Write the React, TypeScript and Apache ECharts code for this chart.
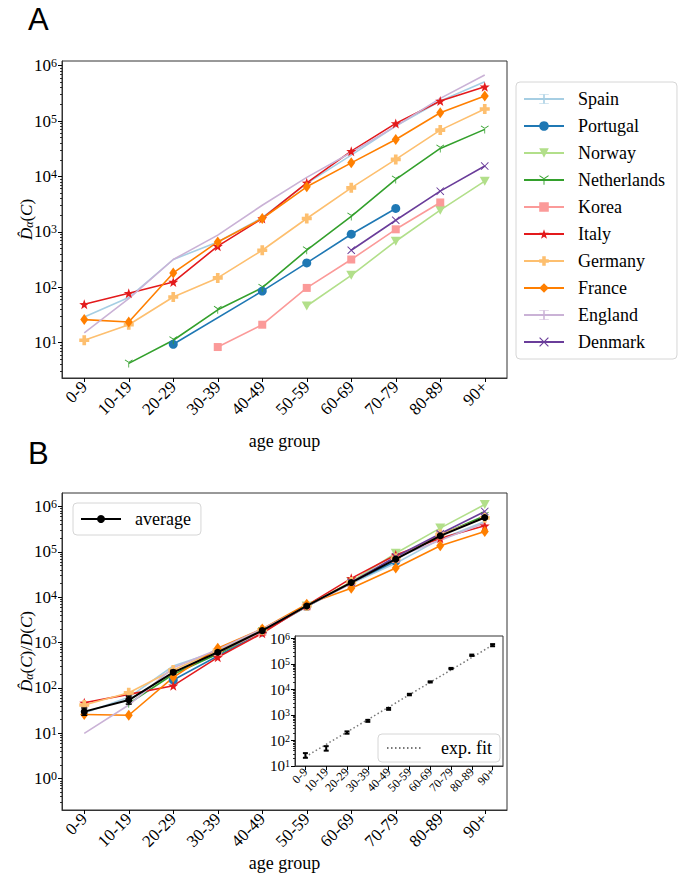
import React, { useEffect, useRef } from 'react';
import * as echarts from 'echarts';

const SERIF = '"Liberation Serif", "Times New Roman", serif';

const ageGroups = ['0-9', '10-19', '20-29', '30-39', '40-49', '50-59', '60-69', '70-79', '80-89', '90+'];
const countries = ['Spain', 'Portugal', 'Norway', 'Netherlands', 'Korea', 'Italy', 'Germany', 'France', 'England', 'Denmark'];
const colors = ['#a6cee3', '#1f78b4', '#b2df8a', '#33a02c', '#fb9a99', '#e31a1c', '#fdbf6f', '#ff7f00', '#cab2d6', '#6a3d9a'];

// Panel A: D_alpha(C)
const spainA = [29, 65, 316, 656, 1800, 7500, 24300, 81000, 230000, 515000];
const portugalA = [null, null, 9.3, null, 85, 274, 905, 2640, null, null];
const norwayA = [null, null, null, null, null, 45.7, 164, 676, 2460, 8220];
const netherlandsA = [null, 4.2, 11, 39, 98, 465, 1900, 8830, 32100, 70800];
const koreaA = [null, null, null, 8.3, 21, 97, 316, 1110, 3390, null];
const italyA = [49, 78, 124, 550, 1740, 7660, 28600, 90800, 230000, 417000];
const germanyA = [11, 21, 66.5, 147, 465, 1740, 6220, 20300, 68700, 165000];
const franceA = [26, 23.5, 181, 656, 1740, 6500, 17600, 46500, 141000, 283000];
const englandA = [15, 62, 316, 870, 3020, 9600, 27000, 81000, 257000, 680000];
const denmarkA = [null, null, null, null, null, null, 465, 1620, 5420, 15400];

// Panel B: D_alpha(C)/D(C)
const spainB = [28, 62, 304, 650, 1800, 6300, 20000, 56000, 190000, 467000];
const portugalB = [null, null, 150, null, 1700, 6200, 21000, 62000, null, null];
const norwayB = [null, null, null, null, null, 6400, 22000, 93000, 333000, 1100000];
const netherlandsB = [null, 45, 200, 560, 1800, 6300, 21000, 72000, 235000, 620000];
const koreaB = [null, null, null, 600, 1700, 6300, 21000, 70000, 230000, null];
const italyB = [47, 72, 112, 473, 1600, 6600, 26000, 85000, 200000, 375000];
const germanyB = [42, 78, 248, 680, 1900, 6500, 21500, 72000, 240000, 560000];
const franceB = [26, 25, 171, 748, 2000, 7000, 15800, 44000, 136000, 280000];
const englandB = [10, 42, 280, 700, 2000, 6300, 20000, 75000, 180000, 430000];
const denmarkB = [null, null, null, null, null, null, 21000, 78000, 250000, 776000];

const averageB = [30, 54, 221, 611, 1830, 6420, 21000, 69000, 225000, 571000];
const averageLo = [25, 44, 200, 570, 1720, 6100, 20000, 65500, 213000, 540000];
const averageHi = [36, 66, 245, 655, 1950, 6750, 22000, 72500, 237000, 602000];

// Inset
const insetMid = [26, 49, 206, 590, 1740, 6370, 19900, 66700, 221000, 550000];
const insetLo = [21, 40, 185, 540, 1600, 5950, 18900, 63000, 208000, 500000];
const insetHi = [32, 60, 228, 645, 1900, 6800, 21000, 70500, 235000, 605000];
const expFit = [22.9, 70.3, 216, 662, 2032, 6237, 19140, 58750, 180300, 553400];

const dataA = [spainA, portugalA, norwayA, netherlandsA, koreaA, italyA, germanyA, franceA, englandA, denmarkA];
const dataB = [spainB, portugalB, norwayB, netherlandsB, koreaB, italyB, germanyB, franceB, englandB, denmarkB];

const STAR = 'path://M0,-10 L2.35,-3.24 L9.51,-3.09 L3.8,1.24 L5.88,8.09 L0,4 L-5.88,8.09 L-3.8,1.24 L-9.51,-3.09 L-2.35,-3.24 Z';
const PLUS = 'path://M-1.1,-3 L1.1,-3 L1.1,-1.1 L3,-1.1 L3,1.1 L1.1,1.1 L1.1,3 L-1.1,3 L-1.1,1.1 L-3,1.1 L-3,-1.1 L-1.1,-1.1 Z';
const XMARK = 'path://M-3,-3.6 L0,-0.6 L3,-3.6 L3.6,-3 L0.6,0 L3.6,3 L3,3.6 L0,0.6 L-3,3.6 L-3.6,3 L-0.6,0 L-3.6,-3 Z';
const TRI = 'path://M-0.35,0 L0.35,0 L0.35,4 L-0.35,4 Z M0.175,-0.303 L-3.285,-2.303 L-3.635,-1.697 L-0.175,0.303 Z M0.175,0.303 L3.635,-1.697 L3.285,-2.303 L-0.175,-0.303 Z';
const DIAM = 'path://M0,-5 L3.2,0 L0,5 L-3.2,0 Z';
const IBAR = 'path://M-2.2,-5 L2.2,-5 L2.2,-4.3 L0.35,-4.3 L0.35,4.3 L2.2,4.3 L2.2,5 L-2.2,5 L-2.2,4.3 L-0.35,4.3 L-0.35,-4.3 L-2.2,-4.3 Z';

const markerStyles: any[] = [
  { symbol: IBAR, size: [6, 14], rotate: 0, show: false },
  { symbol: 'circle', size: 9, rotate: 0, show: true },
  { symbol: 'triangle', size: [10, 9], rotate: 180, show: true },
  { symbol: TRI, size: [8, 8], rotate: 0, show: true },
  { symbol: 'rect', size: 8, rotate: 0, show: true },
  { symbol: STAR, size: [10, 10], rotate: 0, show: true },
  { symbol: PLUS, size: [10, 10], rotate: 0, show: true },
  { symbol: DIAM, size: [8, 11], rotate: 0, show: true },
  { symbol: IBAR, size: [6, 14], rotate: 0, show: false },
  { symbol: XMARK, size: [8, 8], rotate: 0, show: true },
];

function majorTicks(lo: number, hi: number): number[] {
  const out: number[] = [];
  for (let d = -3; d <= 8; d++) {
    const v = Math.pow(10, d);
    if (v >= lo && v <= hi) out.push(v);
  }
  return out;
}
function minorTicks(lo: number, hi: number): number[] {
  const out: number[] = [];
  for (let d = -3; d <= 8; d++) {
    for (let k = 2; k <= 9; k++) {
      const v = k * Math.pow(10, d);
      if (v >= lo && v <= hi) out.push(v);
    }
  }
  return out;
}

const supFormatter = (v: number) => `{b|10}{s|${Math.round(Math.log10(v))}}`;

function yAxes(gridIndex: number, min: number, max: number, fontSize: number, supSize: number, name?: string, nameGap?: number) {
  const majors = majorTicks(min, max);
  const minors = minorTicks(min, max);
  const nameRich = {
    i: { fontSize: 17, fontFamily: SERIF, fontStyle: 'italic', color: '#000' },
    u: { fontSize: 17, fontFamily: SERIF, color: '#000' },
    sub: { fontSize: 12, fontFamily: SERIF, fontStyle: 'italic', color: '#000', verticalAlign: 'bottom', padding: [6, 0, 0, 0] },
  };
  return [
    {
      type: 'log', logBase: 10, gridIndex, min, max, position: 'left',
      axisLine: { show: true, lineStyle: { color: '#333', width: 1 } },
      axisTick: { show: true, length: 4, inside: false, customValues: majors, lineStyle: { color: '#000', width: 1 } },
      axisLabel: {
        customValues: majors, margin: 5, fontSize, fontFamily: SERIF, color: '#000',
        formatter: supFormatter,
        rich: {
          b: { fontSize, fontFamily: SERIF, color: '#000' },
          s: { fontSize: supSize, fontFamily: SERIF, color: '#000', verticalAlign: 'top' },
        },
      },
      splitLine: { show: false },
      minorTick: { show: false },
      minorSplitLine: { show: false },
      name: name || '',
      nameLocation: 'middle',
      nameGap: nameGap || 0,
      nameRotate: 90,
      nameMoveOverlap: false,
      nameTextStyle: { rich: nameRich, fontSize: 17, fontFamily: SERIF, color: '#000' },
    },
    {
      type: 'log', logBase: 10, gridIndex, min, max, position: 'left',
      axisLine: { show: false },
      axisTick: { show: true, length: 2, inside: false, customValues: minors, lineStyle: { color: '#000', width: 0.8 } },
      axisLabel: { show: false },
      splitLine: { show: false },
      minorTick: { show: false },
    },
  ];
}

function xAxis(gridIndex: number, fontSize: number, name?: string, nameGap?: number) {
  return {
    type: 'category', gridIndex, data: ageGroups, boundaryGap: true,
    axisLine: { show: true, lineStyle: { color: '#333', width: 1 } },
    axisTick: { show: true, alignWithLabel: true, length: 4, inside: false, lineStyle: { color: '#000' } },
    axisLabel: { interval: 0, rotate: 45, fontSize, fontFamily: SERIF, color: '#000', margin: 6 },
    splitLine: { show: false },
    name: name || '',
    nameLocation: 'middle',
    nameGap: nameGap || 0,
    nameMoveOverlap: false,
    nameTextStyle: { fontSize: 18, fontFamily: SERIF, color: '#000' },
  };
}

function errRender(capW: number, lw: number) {
  return (params: any, api: any) => {
    const xi = api.value(0);
    const lo = api.coord([xi, api.value(1)]);
    const hi = api.coord([xi, api.value(2)]);
    const style = { stroke: '#000', lineWidth: lw };
    return {
      type: 'group',
      children: [
        { type: 'line', shape: { x1: lo[0], y1: lo[1], x2: hi[0], y2: hi[1] }, style },
        { type: 'line', shape: { x1: lo[0] - capW, y1: lo[1], x2: lo[0] + capW, y2: lo[1] }, style },
        { type: 'line', shape: { x1: hi[0] - capW, y1: hi[1], x2: hi[0] + capW, y2: hi[1] }, style },
      ],
    };
  };
}

export default function App() {
  const ref = useRef<HTMLDivElement>(null);
  useEffect(() => {
    if (!ref.current) return;
    const chart = echarts.init(ref.current, undefined, { renderer: 'svg' });

    const gridStyle = { show: true, borderColor: '#333', borderWidth: 1, backgroundColor: 'transparent', containLabel: false, outerBoundsMode: 'none' };

    const countrySeries = (axisX: number, axisY: number, sets: (number | null)[][], z: number) =>
      countries.map((c, i) => ({
        type: 'line', name: c, xAxisIndex: axisX, yAxisIndex: axisY,
        data: sets[i],
        symbol: markerStyles[i].symbol,
        symbolSize: markerStyles[i].size,
        symbolRotate: markerStyles[i].rotate,
        showSymbol: markerStyles[i].show,
        connectNulls: true,
        lineStyle: { color: colors[i], width: 1.6 },
        itemStyle: { color: colors[i] },
        z,
        silent: true,
      }));

    const option: any = {
      animation: false,
      backgroundColor: '#fff',
      textStyle: { fontFamily: SERIF, color: '#000' },
      grid: [
        { ...gridStyle, left: 62, top: 61, width: 445, height: 317 },
        { ...gridStyle, left: 62, top: 493, width: 445, height: 317 },
        { ...gridStyle, left: 295, top: 636, width: 208, height: 130, backgroundColor: '#fff', z: 5 },
      ],
      xAxis: [
        xAxis(0, 17, 'age group', 54),
        xAxis(1, 17, 'age group', 44),
        { ...xAxis(2, 12), axisLabel: { interval: 0, rotate: 45, fontSize: 12, fontFamily: SERIF, color: '#000', margin: 4 }, z: 6 },
      ],
      yAxis: [
        ...yAxes(0, 2.29, 1216000, 17, 12, '{i|D\u0302}{sub|α}{u|(}{i|C}{u|)}', 27),
        ...yAxes(1, 0.204, 1977000, 17, 12, '{i|D\u0302}{sub|α}{u|(}{i|C}{u|)/}{i|D}{u|(}{i|C}{u|)}', 27),
        ...yAxes(2, 10, 1260000, 15, 10).map((a: any) => ({ ...a, z: 6 })),
      ],
      legend: [
        {
          data: countries, orient: 'vertical', left: 516, top: 82,
          padding: [8, 12, 8, 7], itemWidth: 40, itemHeight: 12, itemGap: 9,
          textStyle: { fontSize: 18, fontFamily: SERIF, color: '#000', padding: [0, 0, 0, 9] },
          backgroundColor: '#fff', borderColor: '#d6d6d6', borderWidth: 1, borderRadius: 4,
          selectedMode: false,
        },
        {
          data: ['average'], orient: 'vertical', left: 73, top: 503,
          padding: [7, 10, 7, 7], itemWidth: 40, itemHeight: 10,
          textStyle: { fontSize: 18, fontFamily: SERIF, color: '#000', padding: [0, 0, 0, 9] },
          backgroundColor: '#fff', borderColor: '#d6d6d6', borderWidth: 1, borderRadius: 4,
          selectedMode: false,
        },
        {
          data: ['exp. fit'], orient: 'vertical', left: 378, top: 734,
          padding: [5, 8, 5, 8], itemWidth: 36, itemHeight: 10,
          textStyle: { fontSize: 18, fontFamily: SERIF, color: '#000', padding: [0, 0, 0, 13] },
          itemStyle: { opacity: 0 },
          backgroundColor: '#fff', borderColor: '#d6d6d6', borderWidth: 1, borderRadius: 4,
          selectedMode: false, z: 10,
        },
      ],
      graphic: [
        { type: 'text', x: 28, y: 19, style: { text: 'A', font: '31px "Liberation Sans", Arial, sans-serif', fill: '#000', verticalAlign: 'middle' } },
        { type: 'text', x: 28, y: 453, style: { text: 'B', font: '31px "Liberation Sans", Arial, sans-serif', fill: '#000', verticalAlign: 'middle' } },
      ],
      series: [
        ...countrySeries(0, 0, dataA, 2),
        ...countrySeries(1, 2, dataB, 2),
        {
          type: 'line', name: 'average', xAxisIndex: 1, yAxisIndex: 2, data: averageB,
          symbol: 'circle', symbolSize: 7, showSymbol: true,
          lineStyle: { color: '#000', width: 2 }, itemStyle: { color: '#000' }, z: 4, silent: true,
        },
        {
          type: 'custom', name: 'average-err', xAxisIndex: 1, yAxisIndex: 2,
          data: ageGroups.map((_, i) => [i, averageLo[i], averageHi[i]]),
          encode: { x: 0, y: [1, 2] },
          renderItem: errRender(3, 1.5), z: 4, silent: true,
        },
        {
          type: 'line', name: 'exp. fit', xAxisIndex: 2, yAxisIndex: 4, data: expFit,
          symbol: 'none', showSymbol: false,
          lineStyle: { color: '#777', width: 1.5, type: [1.5, 2.5] }, itemStyle: { color: '#777' }, z: 7, silent: true,
        },
        {
          type: 'custom', name: 'inset-err', xAxisIndex: 2, yAxisIndex: 4,
          data: ageGroups.map((_, i) => [i, insetLo[i], insetHi[i], insetMid[i]]),
          encode: { x: 0, y: [1, 2] },
          renderItem: errRender(2.5, 2), z: 8, silent: true,
        },
      ],
    };
    chart.setOption(option);
    return () => chart.dispose();
  }, []);
  return <div ref={ref} style={{ position: 'fixed', left: 0, top: 0, width: 680, height: 885, background: '#fff' }} />;
}
